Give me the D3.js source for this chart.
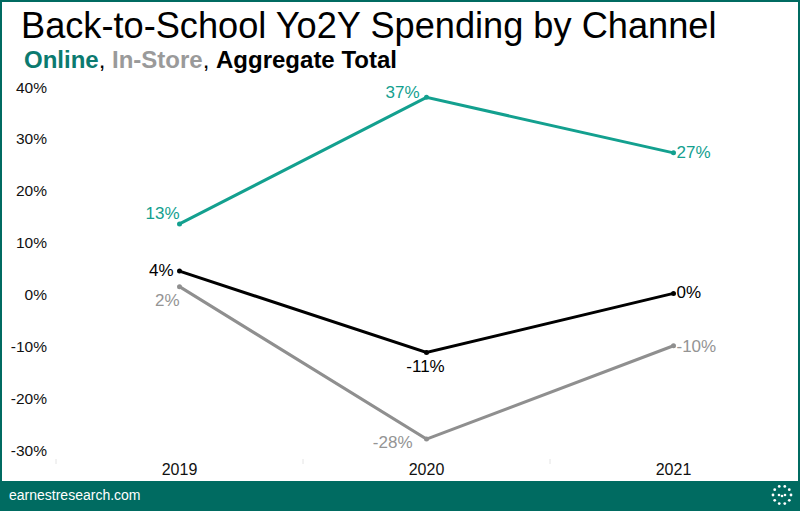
<!DOCTYPE html>
<html>
<head>
<meta charset="utf-8">
<script src="https://cdn.jsdelivr.net/npm/d3@7"></script>
<style>
  body { margin: 0; background: #fff; }
  svg { display: block; font-family: Arial, "Liberation Sans", sans-serif; }
</style>
</head>
<body>
<div id="chart"></div>
<script>
// data
let years = ["2019", "2020", "2021"]
let online = [13.6, 38.0, 27.3]
let inStore = [1.5, -27.9, -9.9]
let aggregate = [4.5, -11.2, 0.2]
let onlineLabels = ["13%", "37%", "27%"]
let inStoreLabels = ["2%", "-28%", "-10%"]
let aggregateLabels = ["4%", "-11%", "0%"]
let yTicks = [40, 30, 20, 10, 0, -10, -20, -30]

let width = 800, height = 511
let teal = "#006b61"

let svg = d3.select('#chart')
    .append('svg')
    .attr('width', width)
    .attr('height', height)

// scales
let x = d3.scaleBand()
    .domain(years)
    .range([56, 797])

let y = d3.scaleLinear()
    .domain([-30, 40])
    .range([450, 87])

// y tick labels
svg.append('g')
    .selectAll('text')
    .data(yTicks)
    .enter()
    .append('text')
    .attr('x', 47)
    .attr('y', d => y(d))
    .attr('dy', '0.36em')
    .attr('text-anchor', 'end')
    .style('font-size', '15.5px')
    .style('fill', '#111')
    .text(d => d + '%')

// x axis: faint ticks between categories + year labels
svg.append('g')
    .selectAll('line')
    .data(years)
    .enter()
    .append('line')
    .attr('x1', d => x(d))
    .attr('x2', d => x(d))
    .attr('y1', 459)
    .attr('y2', 464)
    .style('stroke', '#e4e4e4')

svg.append('g')
    .selectAll('text')
    .data(years)
    .enter()
    .append('text')
    .attr('x', d => x(d) + x.bandwidth() / 2)
    .attr('y', 475)
    .attr('text-anchor', 'middle')
    .style('font-size', '16px')
    .style('fill', '#111')
    .text(d => d)

// series, with where each label sits relative to its point
let series = [
    {name: "In-Store", values: inStore, labels: inStoreLabels, line: "#8f8f8f", text: "#949494",
     place: [{dx: 0, dy: 19, anchor: 'end'}, {dx: -14, dy: 9, anchor: 'end'}, {dx: 3, dy: 6, anchor: 'start'}]},
    {name: "Aggregate", values: aggregate, labels: aggregateLabels, line: "#000", text: "#000",
     place: [{dx: -6, dy: 5, anchor: 'end'}, {dx: -1, dy: 19, anchor: 'middle'}, {dx: 3, dy: 5, anchor: 'start'}]},
    {name: "Online", values: online, labels: onlineLabels, line: "#13a08f", text: "#13a08f",
     place: [{dx: 0, dy: -5, anchor: 'end'}, {dx: -7, dy: 1, anchor: 'end'}, {dx: 3, dy: 5, anchor: 'start'}]}
]

let cx = d => x(d) + x.bandwidth() / 2

let line = d3.line()
    .x(d => cx(d.year))
    .y(d => y(d.value))

series.forEach(s => {
    let pts = years.map((yr, i) => ({year: yr, value: s.values[i], label: s.labels[i], place: s.place[i]}))

    svg.append('path')
        .datum(pts)
        .attr('d', line)
        .style('fill', 'none')
        .style('stroke', s.line)
        .style('stroke-width', 3)

    svg.selectAll('.dot-' + s.name)
        .data(pts)
        .enter()
        .append('circle')
        .attr('cx', d => cx(d.year))
        .attr('cy', d => y(d.value))
        .attr('r', 2.5)
        .style('fill', s.line)

    svg.selectAll('.lbl-' + s.name)
        .data(pts)
        .enter()
        .append('text')
        .attr('x', d => cx(d.year) + d.place.dx)
        .attr('y', d => y(d.value) + d.place.dy)
        .attr('text-anchor', d => d.place.anchor)
        .style('font-size', '17px')
        .style('fill', s.text)
        .text(d => d.label)
})

// title + subtitle
svg.append('text')
    .attr('x', 21)
    .attr('y', 38)
    .style('font-size', '36.2px')
    .style('fill', '#000')
    .text('Back-to-School Yo2Y Spending by Channel')

let sub = svg.append('text')
    .attr('x', 24)
    .attr('y', 68)
    .style('font-size', '24px')
    .style('font-weight', 'bold')
sub.append('tspan').style('fill', '#0b7a6f').text('Online')
sub.append('tspan').style('fill', '#000').style('font-weight', 'normal').text(', ')
sub.append('tspan').style('fill', '#9a9a9a').text('In-Store')
sub.append('tspan').style('fill', '#000').style('font-weight', 'normal').text(', ')
sub.append('tspan').style('fill', '#000').text('Aggregate Total')

// footer band
svg.append('rect')
    .attr('x', 0)
    .attr('y', 481)
    .attr('width', width)
    .attr('height', height - 481)
    .style('fill', teal)

svg.append('text')
    .attr('x', 9)
    .attr('y', 500)
    .style('font-size', '14px')
    .style('fill', '#fff')
    .text('earnestresearch.com')

// dotted logo
let logo = svg.append('g').attr('transform', 'translate(782,495)')
logo.selectAll('circle')
    .data(d3.range(10))
    .enter()
    .append('circle')
    .attr('cx', i => 9 * Math.cos(i / 10 * 2 * Math.PI))
    .attr('cy', i => 9 * Math.sin(i / 10 * 2 * Math.PI))
    .attr('r', 1.4)
    .style('fill', '#fff')
logo.selectAll('.inner')
    .data([[-3, 0], [0, 1], [3, 0]])
    .enter()
    .append('circle')
    .attr('cx', d => d[0])
    .attr('cy', d => d[1])
    .attr('r', 1.3)
    .style('fill', '#fff')

// outer frame
svg.append('rect')
    .attr('x', 1)
    .attr('y', 1)
    .attr('width', width - 2)
    .attr('height', height - 2)
    .style('fill', 'none')
    .style('stroke', teal)
    .style('stroke-width', 2)
</script>
</body>
</html>
